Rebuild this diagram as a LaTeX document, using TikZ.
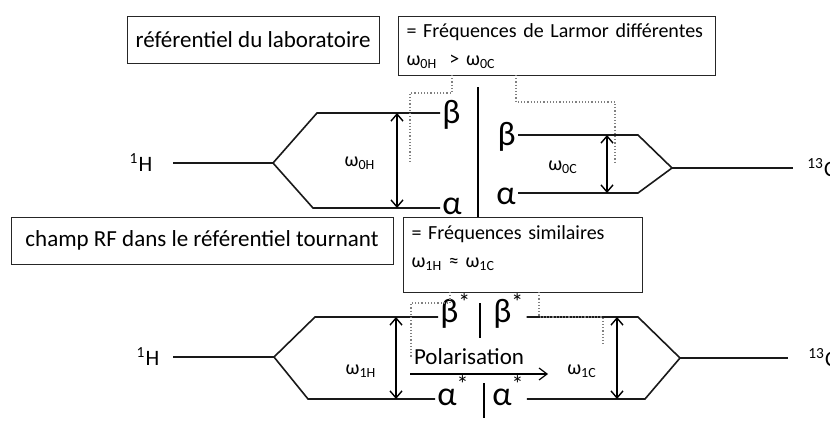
\documentclass[tikz,border=0pt]{standalone}
\usepackage{fontspec}
\setmainfont{Carlito}
\usetikzlibrary{arrows.meta, positioning}
\tikzset{
	titlebox/.style={rectangle, draw=black!85, line width=0.5pt, align=center, inner sep=2pt, font=\fontsize{11.5}{13}\selectfont},
	infobox/.style={rectangle, draw=black!85, line width=0.5pt, align=left, inner xsep=4pt, inner ysep=3pt, font=\fontsize{10}{14}\selectfont},
	level/.style={line width=0.8pt, draw=black!90},
	gap/.style={{Straight Barb[length=3.5pt, width=6pt]}-{Straight Barb[length=3.5pt, width=6pt]}, line width=0.7pt},
	pol/.style={-{Straight Barb[length=4pt, width=6pt]}, line width=0.6pt},
	hint/.style={densely dotted, draw=gray, line width=0.6pt},
	sepline/.style={line width=0.6pt},
	spin/.style={inner sep=1pt, font=\fontsize{17}{19}\selectfont},
	nucl/.style={inner sep=1pt, font=\fontsize{11}{13}\selectfont},
	freq/.style={inner sep=1pt, font=\fontsize{10}{12}\selectfont},
}
\newcommand{\starred}[1]{#1\textsuperscript{\smash{*}}}

\begin{document}
\begin{tikzpicture}[x=0.5pt, y=-0.5pt]
	\useasboundingbox (0,0) rectangle (830,439);

	% laboratory frame
	\node[titlebox, minimum width=126pt, minimum height=23.5pt] (lab) at (253,39.5) {référentiel du laboratoire};
	\node[infobox, anchor=north west, text width=150.5pt, minimum height=29.5pt] (larmor) at (398,16) {= Fréquences de Larmor différentes\\ ω\textsubscript{0H}\; > ω\textsubscript{0C}};

	\node[nucl] (h0) at (141,163) {\textsuperscript{1}H};
	\coordinate (h0e) at (173,163);
	\coordinate (h0s) at (273,163);
	\coordinate (h0u) at (317,113);
	\coordinate (h0d) at (313,208);
	\node[spin, anchor=west] (bH) at (440,115) {β};
	\node[spin, anchor=west] (aH) at (440,206) {α};
	\draw[level] (h0e) -- (h0s) -- (h0u) -- (bH.west |- h0u);
	\draw[level] (h0s) -- (h0d) -- (aH.west |- h0d);
	\draw[gap] (397,113) -- (397,208);
	\node[freq] (w0H) at (360,163) {ω\textsubscript{0H}};

	\node[spin, anchor=east] (bC) at (518,137) {β};
	\node[spin, anchor=east] (aC) at (518,196) {α};
	\coordinate (c0u) at (638,135);
	\coordinate (c0d) at (638,193);
	\coordinate (c0s) at (672,168);
	\coordinate (c0e) at (793,168);
	\node[nucl, anchor=west] (c0) at (805,168) {\textsuperscript{13}C};
	\draw[level] (bC.east |- c0u) -- (c0u) -- (c0s) -- (c0d) -- (aC.east |- c0d);
	\draw[level] (c0s) -- (c0e);
	\draw[gap] (607,135) -- (607,193);
	\node[freq] (w0C) at (563,167) {ω\textsubscript{0C}};

	\coordinate (sepTop) at (478,87);
	\draw[hint] (452,75) -- (452,93) -| (410,163);
	\draw[hint] (516,75) -- (516,102) -| (615,163);

	% rotating frame
	\node[titlebox, minimum width=191pt, minimum height=23.5pt] (rot) at (202,240.5) {champ RF dans le référentiel tournant};
	\node[infobox, anchor=north west, text width=111.5pt, minimum height=37.5pt] (simil) at (403,217) {= Fréquences similaires\\ ω\textsubscript{1H} ≈ ω\textsubscript{1C}\\[-6pt]\mbox{}};
	\draw[sepline] (sepTop) -- (sepTop |- simil.north);

	\node[nucl] (h1) at (148,357) {\textsuperscript{1}H};
	\coordinate (h1e) at (173,357);
	\coordinate (h1s) at (274,357);
	\coordinate (h1u) at (315,317);
	\coordinate (h1d) at (308,399);
	\node[spin, anchor=west] (bsH) at (438,314) {\starred{β}};
	\node[spin, anchor=west] (asH) at (435,397) {\starred{α}};
	\draw[level] (h1e) -- (h1s) -- (h1u) -- (bsH.west |- h1u);
	\draw[level] (h1s) -- (h1d) -- (asH.west |- h1d);
	\draw[gap] (396,317) -- (396,399);
	\node[freq] (w1H) at (361,371) {ω\textsubscript{1H}};

	\draw[sepline] (480,303) -- (480,338);
	\draw[sepline] (484,383) -- (484,418);

	\node[spin, anchor=west] (bsC) at (491,314) {\starred{β}};
	\node[spin, anchor=west] (asC) at (490,397) {\starred{α}};
	\coordinate (c1u) at (638,317);
	\coordinate (c1d) at (645,399);
	\coordinate (c1s) at (680,358);
	\coordinate (c1e) at (788,358);
	\node[nucl, anchor=west] (c1) at (806,358) {\textsuperscript{13}C};
	\draw[level] (bsC.east |- c1u) -- (c1u) -- (c1s) -- (c1d) -- (asC.east |- c1d);
	\draw[level] (c1s) -- (c1e);
	\draw[gap] (617,317) -- (617,399);
	\node[freq] (w1C) at (582,371) {ω\textsubscript{1C}};

	\node[freq, font=\fontsize{11.5}{13}\selectfont] (polar) at (469,357) {Polarisation};
	\coordinate (pol0) at (410,374);
	\coordinate (pol1) at (548,374);
	\draw[pol] (pol0) -- (pol1);

	\draw[hint] (450,292) -- (450,303) -| (411,357);
	\draw[hint] (539,292) -- (539,317) -| (603,345);
\end{tikzpicture}
\end{document}
